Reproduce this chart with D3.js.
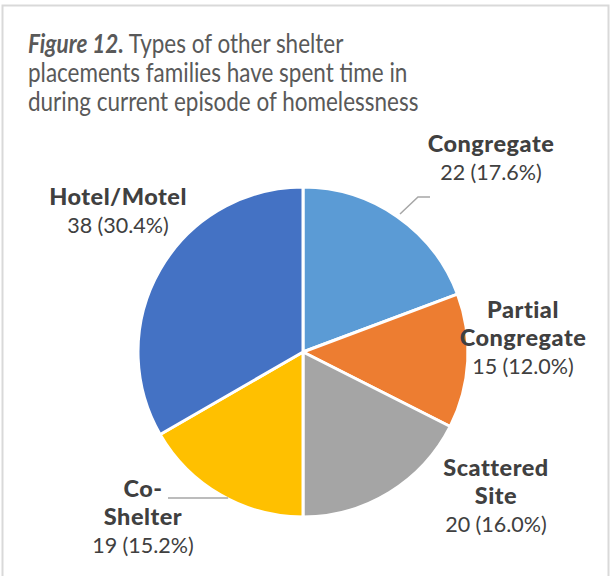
<!DOCTYPE html>
<html>
<head>
<meta charset="utf-8">
<script src="https://cdn.jsdelivr.net/npm/d3@7"></script>
<style>
  html, body { margin: 0; padding: 0; background: #fff; }
  svg { display: block; }
  text { font-family: "Gill Sans MT", "Gill Sans", Lato, "Open Sans", sans-serif; }
</style>
</head>
<body>
<svg id="chart" width="611" height="576"></svg>
<script>
// Shelter placement types and family counts
const categories = ["Congregate", "Partial Congregate", "Scattered Site", "Co-Shelter", "Hotel/Motel"];
const counts = [22, 15, 20, 19, 38];
const percents = ["17.6%", "12.0%", "16.0%", "15.2%", "30.4%"];
const nameLines = [["Congregate"], ["Partial", "Congregate"], ["Scattered", "Site"], ["Co-", "Shelter"], ["Hotel/Motel"]];
const colors = ["#5B9BD5", "#ED7D31", "#A5A5A5", "#FFC000", "#4472C4"];

const titleLines = [
  [{ t: "Figure 12.", bold: true }, { t: " Types of other shelter", bold: false }],
  [{ t: "placements families have spent time in", bold: false }],
  [{ t: "during current episode of homelessness", bold: false }]
];

const svg = d3.select("#chart");
const W = 611, H = 576;

// outer frame
svg.append("rect")
  .attr("x", 2.5).attr("y", 5.5)
  .attr("width", W - 5).attr("height", H + 10)
  .attr("fill", "#fff").attr("stroke", "#d9d9d9").attr("stroke-width", 2);

// title (slightly condensed)
const title = svg.append("text")
  .attr("transform", "translate(28,0) scale(0.865,1)")
  .attr("fill", "#595959").attr("font-size", 26);
titleLines.forEach((line, i) => {
  line.forEach((seg, j) => {
    const ts = title.append("tspan").text(seg.t)
      .attr("font-weight", seg.bold ? "bold" : "normal")
      .attr("font-style", seg.bold ? "italic" : "normal");
    if (j === 0) ts.attr("x", 0).attr("y", 53 + i * 29);
  });
});

// pie
const cx = 303, cy = 352, r = 165;
const data = categories.map((c, i) => ({ name: c, value: counts[i], pct: percents[i], lines: nameLines[i], color: colors[i] }));
const pie = d3.pie().value(d => d.value).sort(null);
const arc = d3.arc().innerRadius(0).outerRadius(r);
const arcs = pie(data);

const g = svg.append("g").attr("transform", `translate(${cx},${cy})`);
g.selectAll("path.slice").data(arcs).join("path")
  .attr("class", "slice")
  .attr("d", arc)
  .attr("fill", d => d.data.color)
  .attr("stroke", "#fff").attr("stroke-width", 3).attr("stroke-linejoin", "round");

// label placement (center x, first baseline) relative to pie centre
const labelLayout = {
  "Congregate":         { dx: 188, y0: -200 },
  "Partial Congregate": { dx: 220, y0: -34 },
  "Scattered Site":     { dx: 193, y0: 124 },
  "Co-Shelter":         { dx: -160, y0: 145 },
  "Hotel/Motel":        { dx: -185, y0: -147 }
};
const lineH = 28;

const labels = g.selectAll("g.label").data(arcs).join("g").attr("class", "label");
labels.each(function (d) {
  const L = labelLayout[d.data.name];
  const t = d3.select(this).append("text").attr("text-anchor", "middle").attr("font-size", 21.5);
  d.data.lines.forEach((ln, i) => {
    t.append("tspan").attr("x", L.dx).attr("y", L.y0 + i * lineH)
      .attr("font-weight", 900).attr("font-size", 23.5).attr("letter-spacing", 0.5)
      .attr("fill", "#404040").text(ln);
  });
  t.append("tspan").attr("x", L.dx).attr("y", L.y0 + d.data.lines.length * lineH)
    .attr("fill", "#404040").text(`${d.data.value} (${d.data.pct})`);
});

// leader lines
const leader = d3.line();
function edgeX(y) { return Math.sqrt(r * r - y * y); }
g.append("path")
  .attr("d", leader([[97, -138], [115, -155], [127, -155]]))
  .attr("fill", "none").attr("stroke", "#a6a6a6").attr("stroke-width", 1.5);
g.append("path")
  .attr("d", leader([[-135, 146], [-edgeX(146) + 2, 146]]))
  .attr("fill", "none").attr("stroke", "#a6a6a6").attr("stroke-width", 1.5);
</script>
</body>
</html>
